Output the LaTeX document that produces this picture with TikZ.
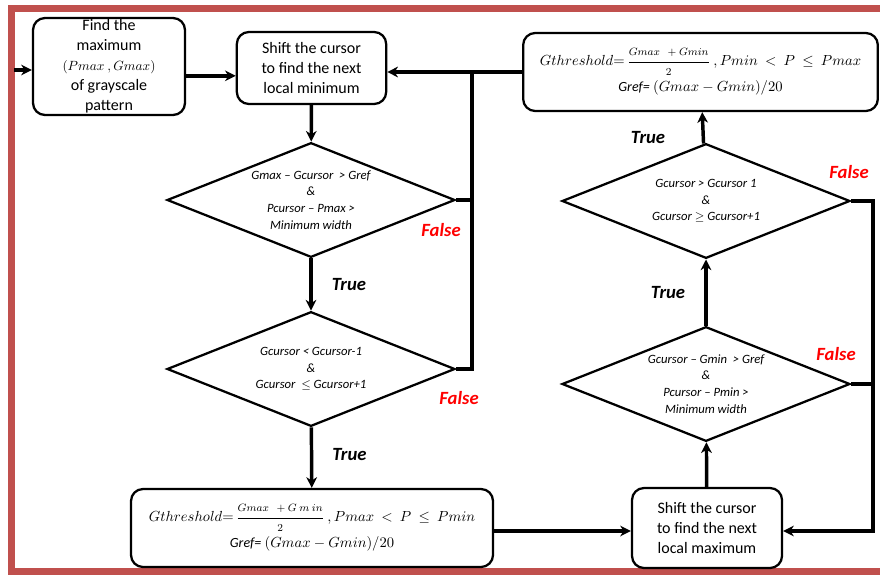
\documentclass[tikz,border=0pt]{standalone}
\usepackage{amsmath,amssymb}
\usepackage{fontspec}
\setmainfont{Carlito}
\usetikzlibrary{shapes.geometric,arrows.meta}
\definecolor{framered}{RGB}{192,80,77}
\definecolor{falsered}{RGB}{255,0,0}

\newcommand{\smallmath}[1]{\text{\fontsize{8.5}{9}\selectfont$#1$}}

\tikzset{
  procbox/.style={draw,line width=1.7pt,rounded corners=9pt,align=center,inner sep=0pt,
    font=\fontsize{12}{15}\selectfont},
  formbox/.style={procbox,font=\fontsize{10.5}{13}\selectfont},
  test/.style={draw,line width=1.7pt,shape=diamond,aspect=2.5,align=center,inner sep=0pt,
    minimum width=216pt,minimum height=86pt,font=\fontsize{9.5}{12.5}\selectfont\itshape},
  conn/.style={line width=2.6pt,-{Stealth[length=8pt,width=8pt,inset=2.5pt]}},
  wire/.style={line width=2.6pt},
  yes/.style={font=\fontsize{14}{16}\selectfont\bfseries\itshape},
  no/.style={yes,text=falsered},
}

\begin{document}
\begin{tikzpicture}[x=0.75pt,y=-0.75pt]
\useasboundingbox (0,0) rectangle (880,575);
% frame (open on the right)
\draw[framered,line width=5.25pt] (890,8) -- (11,8) -- (11,571) -- (890,571);

\path (109,66.5) node[procbox,minimum width=114pt,minimum height=72.75pt] (findmax)
  {Find the\\maximum\\{\fontsize{10}{12}\selectfont$(Pmax\ ,Gmax)$}\\of grayscale\\pattern};
\path (311.5,68) node[procbox,minimum width=112pt,minimum height=54pt] (shiftmin)
  {Shift the cursor\\to find the next\\local minimum};
\path (700.5,72) node[formbox,minimum width=266pt,minimum height=58.5pt] (thrmax)
  {$Gthreshold{=}\,\dfrac{\smallmath{Gmax\ \ +Gmin}}{\smallmath{2}}\ ,Pmin\ <\ P\ \leq\ Pmax$\\[3pt]
   {\itshape Gref=} $(Gmax-Gmin)/20$};

\path (311,200) node[test] (cond1)
  {Gmax -- Gcursor \ {>} Gref\\\&\\Pcursor -- Pmax {>}\\Minimum width};
\path (311,369) node[test] (cond2)
  {Gcursor {<} Gcursor-1\\\&\\Gcursor \ $\leq$ Gcursor+1};
\path (706,201) node[test] (cond3)
  {Gcursor {>} Gcursor 1\\\&\\Gcursor $\geq$ Gcursor+1};
\path (706,384) node[test] (cond4)
  {Gcursor -- Gmin \ {>} Gref\\\&\\Pcursor -- Pmin {>}\\Minimum width};

\path (312,528) node[formbox,minimum width=271.5pt,minimum height=58.5pt] (thrmin)
  {$Gthreshold{=}\,\dfrac{\smallmath{Gmax\ \ +G\ m\ in}}{\smallmath{2}}\ ,Pmax\ <\ P\ \leq\ Pmin$\\[3pt]
   {\itshape Gref=} $(Gmax-Gmin)/20$};
\path (707,528) node[procbox,minimum width=112.5pt,minimum height=60pt] (shiftmax)
  {Shift the cursor\\to find the next\\local maximum};

\coordinate (entry) at (14,70);
\coordinate (jmin) at (472,72);
\coordinate (jmax) at (873,531);

\draw[conn] (entry) -- (entry -| findmax.west);
\draw[conn] ([yshift=-7pt]findmax.east) -- ([yshift=-7pt]findmax.east -| shiftmin.west);
\draw[conn] (thrmax.west) -- (thrmax.west -| shiftmin.east);
\draw[conn] (shiftmin) -- (cond1);
\draw[wire] (cond1.east) -| (jmin);
\draw[wire] (cond2.east) -| (jmin);
\path[conn] (cond1) edge node[yes,right=11pt] {True} (cond2);
\path[conn] (cond2) edge node[yes,right=11pt,pos=0.45] {True} (thrmin);
\draw[conn] (thrmin.east |- jmax) -- (shiftmax.west |- jmax);
\path[conn] (shiftmax) edge (cond4);
\path[conn] (cond4) edge node[yes,left=11pt] {True} (cond3);
\path[conn] (cond3) edge node[yes,left=24pt,pos=0.2] {True} (thrmax);
\draw[conn] (cond3.east) -| (jmax) -- (shiftmax.east |- jmax);
\draw[wire] (cond4.east) -- (cond4.east -| jmax);

\path (441,230) node[no] {False};
\path (459,398) node[no] {False};
\path (849,172) node[no] {False};
\path (836,354) node[no] {False};
\end{tikzpicture}
\end{document}
